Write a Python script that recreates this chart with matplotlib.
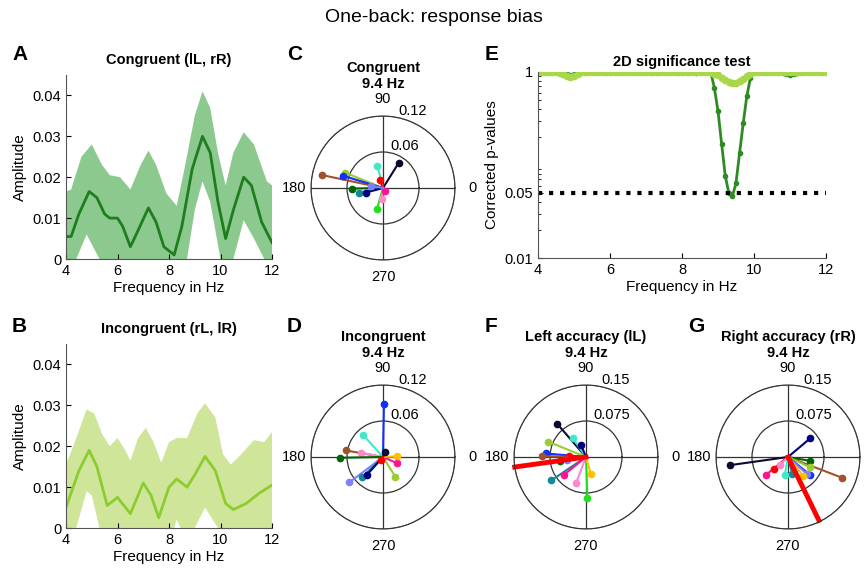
import numpy as np
import matplotlib
matplotlib.use("Agg")
import matplotlib.pyplot as plt
from matplotlib.ticker import LogLocator, NullFormatter

plt.rcParams['font.family'] = ['Liberation Sans', 'DejaVu Sans']

# ---- data ----
a_x = [4, 4.2, 4.5, 4.9, 5.2, 5.5, 5.7, 6.0, 6.2, 6.5, 6.8, 7.2, 7.5, 7.8, 8.2, 8.5, 8.9, 9.3, 9.6, 9.9, 10.2, 10.5, 10.9, 11.2, 11.6, 12]
a_mean = [0.0055, 0.0055, 0.011, 0.0165, 0.015, 0.011, 0.010, 0.010, 0.008, 0.003, 0.007, 0.0125, 0.009, 0.003, 0.001, 0.008, 0.022, 0.030, 0.026, 0.014, 0.005, 0.012, 0.020, 0.018, 0.009, 0.004]
a_up_x = [4, 4.2, 4.6, 5.0, 5.4, 5.7, 6.1, 6.5, 6.9, 7.2, 7.5, 7.9, 8.3, 8.6, 9.0, 9.3, 9.6, 9.9, 10.2, 10.5, 10.9, 11.3, 11.8, 12]
a_up = [0.0165, 0.017, 0.025, 0.028, 0.023, 0.0205, 0.020, 0.017, 0.023, 0.0265, 0.023, 0.016, 0.013, 0.022, 0.035, 0.041, 0.037, 0.026, 0.018, 0.026, 0.031, 0.028, 0.019, 0.018]
a_lo_x = [4, 4.4, 4.8, 5.3, 5.6, 8.6, 8.7, 9.0, 9.3, 9.6, 10.0, 10.3, 10.5, 10.9, 11.3, 11.7, 12]
a_lo = [-0.005, 0.0, 0.006, 0.0, -0.005, -0.005, 0.0, 0.012, 0.019, 0.014, 0.0, -0.004, 0.0, 0.0095, 0.005, 0.0, -0.004]

b_x = [4, 4.5, 4.9, 5.2, 5.6, 6.0, 6.5, 7.0, 7.3, 7.6, 8.0, 8.3, 8.7, 9.0, 9.4, 9.8, 10.2, 10.5, 11, 11.5, 12]
b_mean = [0.005, 0.014, 0.019, 0.015, 0.0055, 0.0075, 0.0035, 0.011, 0.008, 0.0025, 0.010, 0.012, 0.010, 0.013, 0.0175, 0.014, 0.006, 0.0045, 0.006, 0.0085, 0.0105]
b_up_x = [4, 4.4, 4.8, 5.1, 5.4, 5.7, 6.0, 6.3, 6.5, 6.8, 7.1, 7.4, 7.7, 8.0, 8.3, 8.7, 9.1, 9.4, 9.8, 10.1, 10.4, 10.8, 11.3, 11.7, 12]
b_up = [0.0155, 0.022, 0.029, 0.028, 0.023, 0.020, 0.022, 0.019, 0.0165, 0.022, 0.0245, 0.021, 0.016, 0.021, 0.022, 0.022, 0.028, 0.0305, 0.027, 0.018, 0.0155, 0.018, 0.0215, 0.021, 0.0235]
b_lo_x = [4, 4.4, 4.8, 5.0, 5.3, 5.6, 8.1, 8.2, 8.3, 8.45, 8.6, 9.0, 9.4, 9.7, 9.9, 10.2, 12]
b_lo = [-0.006, 0.0, 0.009, 0.008, 0.0, -0.006, -0.004, 0.0, 0.002, 0.0, -0.004, 0.0, 0.005, 0.002, 0.0, -0.006, -0.006]

e_x = [4.0, 4.1, 4.2, 4.3, 4.4, 4.5, 4.6, 4.7, 4.8, 4.9, 5.0, 5.1, 5.2, 5.3, 5.4, 5.5, 5.6, 5.7, 5.8, 5.9,
       6.0, 6.1, 6.2, 6.3, 6.4, 6.5, 6.6, 6.7, 6.8, 6.9, 7.0, 7.1, 7.2, 7.3, 7.4, 7.5, 7.6, 7.7, 7.8, 7.9,
       8.0, 8.1, 8.2, 8.3, 8.4, 8.5, 8.6, 8.7, 8.8, 8.9, 9.0, 9.1, 9.2, 9.3, 9.4, 9.5, 9.6, 9.7, 9.8, 9.9,
       10.0, 10.1, 10.2, 10.3, 10.4, 10.5, 10.6, 10.7, 10.8, 10.9, 11.0, 11.1, 11.2, 11.3, 11.4, 11.5, 11.6, 11.7, 11.8, 11.9, 12.0]
e_dark = [1, 1, 1, 1, 1, 1, 0.99, 0.97, 0.94, 0.93, 0.94, 0.97, 0.99, 1, 1, 1, 1, 1, 1, 1,
          1, 1, 1, 1, 1, 1, 1, 1, 1, 1, 1, 1, 1, 1, 1, 1, 1, 1, 1, 1,
          1, 1, 1, 0.99, 0.98, 0.99, 1, 1, 1, 0.67, 0.38, 0.17, 0.077, 0.05, 0.046, 0.064, 0.135, 0.28, 0.55, 0.86,
          1, 1, 1, 1, 1, 1, 1, 1, 0.98, 0.95, 0.93, 0.94, 0.97, 0.99, 1, 1, 1, 1, 1, 1, 1]
e_light = [1, 1, 1, 1, 1, 1, 0.98, 0.95, 0.91, 0.88, 0.9, 0.95, 0.99, 1, 1, 1, 1, 1, 1, 1,
           1, 1, 1, 1, 1, 1, 1, 1, 1, 1, 1, 1, 1, 1, 1, 1, 1, 1, 1, 1,
           1, 1, 1, 1, 1, 1, 1, 1, 0.99, 0.96, 0.92, 0.87, 0.82, 0.78, 0.76, 0.77, 0.8, 0.85, 0.91, 0.96,
           0.99, 1, 1, 1, 1, 1, 1, 1, 1, 1, 1, 1, 1, 1, 1, 1, 1, 1, 1, 1, 1]

col = {'brown': '#a0522d', 'yg': '#9acd32', 'blue': '#1030ff', 'navy': '#000080', 'black': '#0a0a30',
       'aqua': '#40e8c8', 'red': '#ff0000', 'dg': '#006400', 'teal': '#118a95', 'lime': '#20e020',
       'pink': '#ff88cc', 'mag': '#ff1493', 'gold': '#ffc000', 'slate': '#8080ff'}

c_names = ['brown', 'yg', 'blue', 'black', 'aqua', 'red', 'dg', 'teal', 'navy', 'lime', 'pink', 'mag', 'slate']
c_ang = [168, 158, 163, 58, 104, 113, 181, 191, 195, 254, 265, 300, 170]
c_amp = [0.104, 0.068, 0.07, 0.05, 0.038, 0.014, 0.051, 0.04, 0.03, 0.036, 0.018, 0.006, 0.02]

d_names = ['blue', 'aqua', 'brown', 'pink', 'dg', 'slate', 'teal', 'navy', 'yg', 'mag', 'gold', 'black', 'red']
d_ang = [89, 132, 170, 169, 181, 217, 224, 228, 302, 336, 3, 70, 240]
d_amp = [0.089, 0.049, 0.063, 0.038, 0.071, 0.07, 0.048, 0.04, 0.039, 0.025, 0.024, 0.008, 0.006]

f_names = ['black', 'aqua', 'navy', 'yg', 'blue', 'brown', 'red', 'dg', 'slate', 'teal', 'mag', 'pink', 'lime', 'gold']
f_ang = [131, 125, 112, 158, 175, 179, 176, 189, 190, 214, 219, 249, 272, 286]
f_amp = [0.092, 0.049, 0.028, 0.085, 0.084, 0.091, 0.036, 0.055, 0.041, 0.087, 0.058, 0.058, 0.085, 0.036]
f_mean_ang, f_mean_amp = 188, 0.15

g_names = ['black', 'navy', 'brown', 'dg', 'yg', 'blue', 'slate', 'gold', 'teal', 'aqua', 'mag', 'red', 'pink']
g_ang = [188, 40, 339, 350, 335, 321, 318, 309, 284, 260, 219, 220, 225]
g_amp = [0.121, 0.061, 0.121, 0.047, 0.05, 0.058, 0.054, 0.05, 0.037, 0.039, 0.058, 0.038, 0.025]
g_mean_ang, g_mean_amp = 296, 0.147

W, H = 867, 571
fig = plt.figure(figsize=(W / 100, H / 100), dpi=100)

def ax_px(l, t, r, b, **kw):
    return fig.add_axes([l / W, 1 - b / H, (r - l) / W, (b - t) / H], **kw)

def amp_panel(ax, x, m, ux, u, lx, lo, fillc, linec, title):
    ax.fill(list(ux) + list(lx)[::-1], list(u) + list(lo)[::-1], color=fillc, lw=0)
    ax.plot(x, m, color=linec, lw=2)
    ax.set_xlim(4, 12)
    ax.set_ylim(0, 0.045)
    ax.set_yticks([0, 0.01, 0.02, 0.03, 0.04])
    ax.set_yticklabels(['0', '0.01', '0.02', '0.03', '0.04'])
    ax.set_xticks([4, 6, 8, 10, 12])
    ax.set_xlabel('Frequency in Hz', fontsize=11, labelpad=2)
    ax.set_ylabel('Amplitude', fontsize=11)
    ax.set_title(title, fontsize=10.5, fontweight='bold', pad=8)
    for s in ['top', 'right']:
        ax.spines[s].set_visible(False)
    ax.spines['left'].set_color('#555555')
    ax.spines['bottom'].set_color('#555555')
    ax.tick_params(labelsize=10.5, direction='in')

axA = ax_px(66, 75, 272, 259)
amp_panel(axA, a_x, a_mean, a_up_x, a_up, a_lo_x, a_lo, '#8cc98f', '#1e7d1e', 'Congruent (lL, rR)')
axB = ax_px(66, 344, 272, 528)
amp_panel(axB, b_x, b_mean, b_up_x, b_up, b_lo_x, b_lo, '#cfe69a', '#8ccc30', 'Incongruent (rL, lR)')

axE = ax_px(538, 72, 826, 258)
axE.plot(e_x, e_dark, color='#2e8b22', lw=2, marker='o', ms=3)
axE.plot(e_x, e_light, color='#a8d84a', lw=2.5, marker='o', ms=4.5)
axE.axhline(0.05, xmin=0, xmax=1, color='black', ls=':', lw=3)
axE.set_yscale('log')
axE.set_ylim(0.01, 1)
axE.set_xlim(4, 12)
axE.set_yticks([0.01, 0.05, 1])
axE.set_yticklabels(['0.01', '0.05', '1'])
axE.yaxis.set_minor_locator(LogLocator(base=10, subs=np.arange(2, 10)))
axE.yaxis.set_minor_formatter(NullFormatter())
axE.set_xticks([4, 6, 8, 10, 12])
axE.set_xlabel('Frequency in Hz', fontsize=11, labelpad=2)
axE.set_ylabel('Corrected p-values', fontsize=11)
axE.set_title('2D significance test', fontsize=10.5, fontweight='bold', pad=4)
for s in ['top', 'right']:
    axE.spines[s].set_visible(False)
axE.spines['left'].set_color('#555555')
axE.spines['bottom'].set_color('#555555')
axE.tick_params(labelsize=10.5, direction='in')
axE.tick_params(which='minor', direction='in', length=2)

def polar_panel(cx, cy, names, ang, amp, rmax, rt, rtl, title, mean=None):
    R = 72
    ax = ax_px(cx - R, cy - R, cx + R, cy + R, projection='polar')
    for n, a, r in zip(names, ang, amp):
        t = np.deg2rad(a)
        ax.plot([0, t], [0, r], color=col[n], lw=1.5)
        ax.plot([t], [r], 'o', color=col[n], ms=4.5)
    if mean is not None:
        ax.plot([0, np.deg2rad(mean[0])], [0, mean[1]], color='red', lw=3.5, clip_on=False)
    ax.set_rlim(0, rmax)
    ax.set_rticks(rt)
    ax.set_yticklabels(rtl, fontsize=10.5)
    ax.set_rlabel_position(78)
    ax.set_thetagrids([0, 90, 180, 270], ['0', '90', '180', '270'], fontsize=10.5)
    ax.tick_params(axis='x', pad=2)
    ax.grid(color='#333333', lw=0.9, ls='-')
    ax.spines['polar'].set_color('#333333')
    ax.set_title(title, fontsize=10.5, fontweight='bold', pad=20)

polar_panel(383, 188, c_names, c_ang, c_amp, 0.12, [0.06, 0.12], ['0.06', '0.12'], 'Congruent\n9.4 Hz')
polar_panel(383, 457, d_names, d_ang, d_amp, 0.12, [0.06, 0.12], ['0.06', '0.12'], 'Incongruent\n9.4 Hz')
polar_panel(586, 457, f_names, f_ang, f_amp, 0.15, [0.075, 0.15], ['0.075', '0.15'], 'Left accuracy (lL)\n9.4 Hz',
            mean=(f_mean_ang, f_mean_amp))
polar_panel(788, 457, g_names, g_ang, g_amp, 0.15, [0.075, 0.15], ['0.075', '0.15'], 'Right accuracy (rR)\n9.4 Hz',
            mean=(g_mean_ang, g_mean_amp))

fig.text(0.5, 1 - 18 / H, 'One-back: response bias', ha='center', va='center', fontsize=14)
for lab, x, y in [('A', 12, 55), ('B', 12, 326), ('C', 287, 55), ('D', 287, 326),
                  ('E', 485, 55), ('F', 485, 326), ('G', 688, 326)]:
    fig.text(x / W, 1 - y / H, lab, fontsize=15, fontweight='bold', va='center')

fig.savefig('out.png', dpi=100)
